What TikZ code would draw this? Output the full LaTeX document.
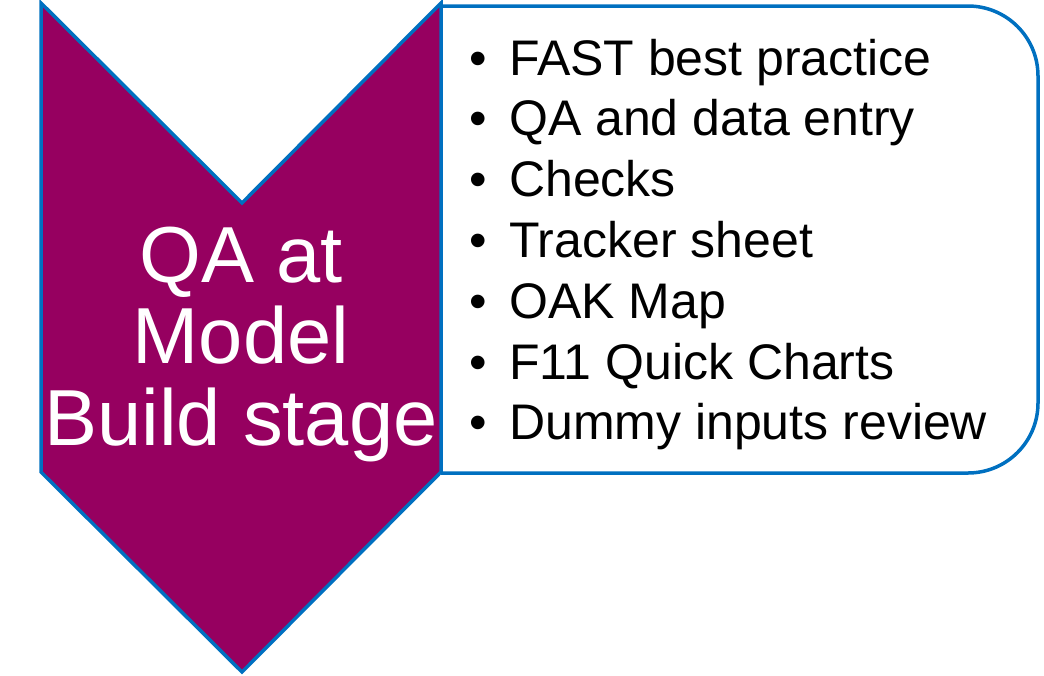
\documentclass[tikz,border=0pt]{standalone}
\usepackage{fontspec}
\setmainfont{Liberation Sans}
\usepackage{tikz}
\definecolor{qapurple}{RGB}{150,0,96}
\definecolor{qablue}{RGB}{0,112,192}
\tikzset{
  chevron/.style={draw=qablue, line width=3.5pt, fill=qapurple},
  listbox/.style={draw=qablue, line width=3.5pt, fill=white, rounded corners=70pt},
  stagetext/.style={font=\fontsize{79.5}{81}\selectfont, text=white, inner sep=0pt},
  itemtext/.style={font=\fontsize{50}{60}\selectfont, text=black, inner sep=0pt},
}

\begin{document}
\begin{tikzpicture}[x=1pt,y=-1pt]
\useasboundingbox (0,0) rectangle (1044,675);
\draw[listbox] (441,6) -- (1038,6) -- (1038,473) -- (441,473);
\draw[chevron] (41,3) -- (242,203) -- (441,3) -- (441,472) -- (242,672) -- (41,472) -- cycle;
\foreach \i/\y/\lab in {0/282/{QA at}, 1/363/{Model}, 2/445/{Build stage}}
  \node[stagetext, anchor=base] (stage\i) at (241,\y) {\lab};
\foreach \i/\lab in {
  0/{FAST best practice},
  1/{QA and data entry},
  2/{Checks},
  3/{Tracker sheet},
  4/{OAK Map},
  5/{F11 Quick Charts},
  6/{Dummy inputs review}}
{
  \node[itemtext, anchor=base] (dot\i) at (478,75+\i*60.8) {\textbullet};
  \node[itemtext, anchor=base west] (item\i) at (509,75+\i*60.8) {\lab};
}
\end{tikzpicture}
\end{document}
